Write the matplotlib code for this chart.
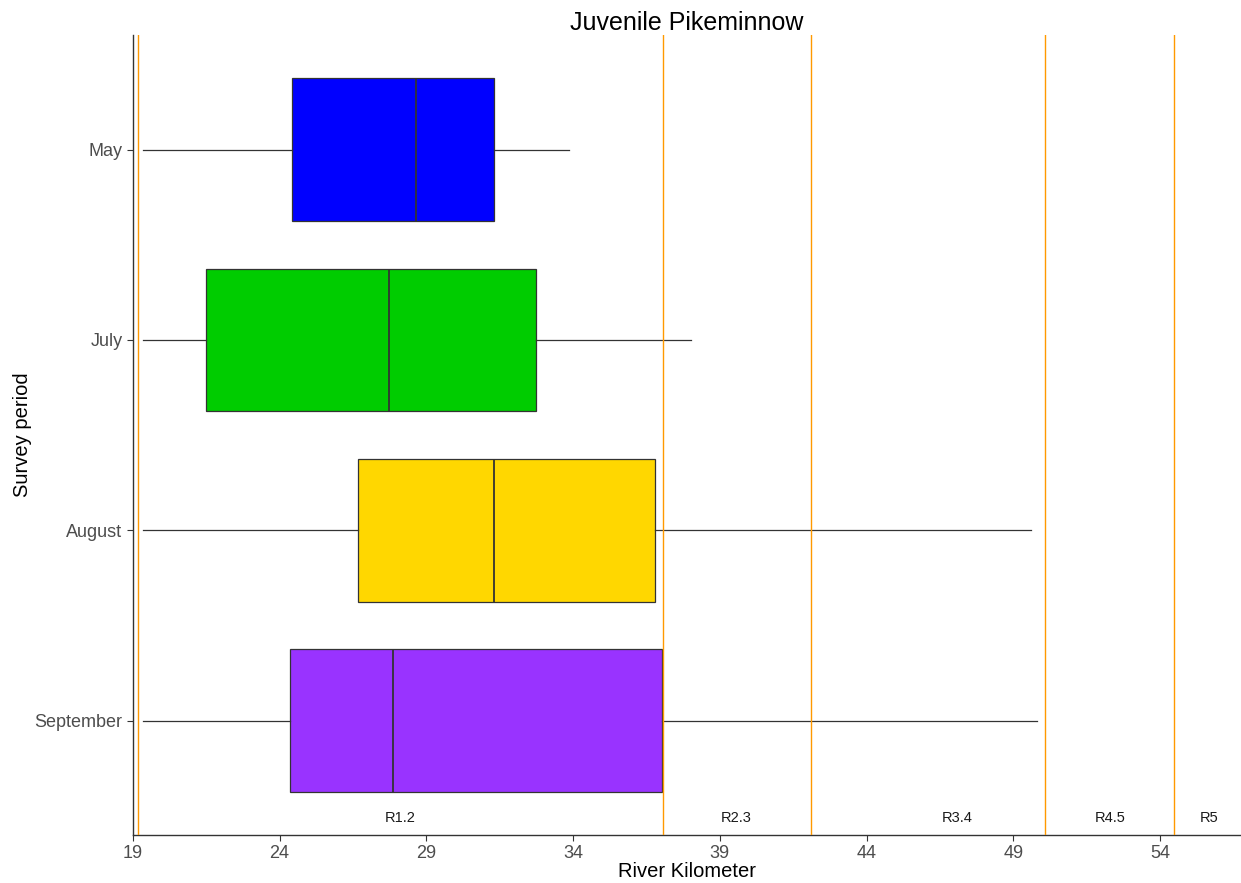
import numpy as np
import matplotlib.pyplot as plt

plt.rcParams['font.family'] = ['Liberation Sans', 'DejaVu Sans']

# data (river km)
periods = ['May', 'July', 'August', 'September']
whis_lo = [19.34, 19.34, 19.34, 19.34]
q1 = [24.42, 21.49, 26.67, 24.35]
med = [28.65, 27.73, 31.30, 27.86]
q3 = [31.31, 32.74, 36.79, 37.03]
whis_hi = [33.86, 38.02, 49.6, 49.81]
colors = ['#0000FF', '#00CC00', '#FFD700', '#9933FF']

reach_breaks = [19.17, 37.06, 42.1, 50.08, 54.48]
reach_labels = ['R1.2', 'R2.3', 'R3.4', 'R4.5', 'R5']
reach_label_x = [28.1, 39.55, 47.08, 52.3, 55.67]

fig = plt.figure(figsize=(12.41, 8.83), dpi=100)
ax = fig.add_axes([0.107, 0.0544, 0.893, 0.9056])

stats = []
for i in range(len(periods)):
    stats.append({'whislo': whis_lo[i], 'q1': q1[i], 'med': med[i], 'q3': q3[i],
                  'whishi': whis_hi[i], 'fliers': [], 'label': periods[i]})

ypos = [4, 3, 2, 1]
bp = ax.bxp(stats, positions=ypos, widths=0.75, vert=False, patch_artist=True,
            showcaps=False,
            boxprops=dict(edgecolor='#333333', linewidth=0.9),
            medianprops=dict(color='#333333', linewidth=1.3),
            whiskerprops=dict(color='#333333', linewidth=0.9))
for patch, c in zip(bp['boxes'], colors):
    patch.set_facecolor(c)

# reach boundaries
for x in reach_breaks:
    ax.axvline(x, color='#FF9900', linewidth=1.0, zorder=5)

for x, lab in zip(reach_label_x, reach_labels):
    ax.text(x, 0.49, lab, ha='center', va='center', fontsize=10.5, color='#1a1a1a')

ax.set_xlim(19, 56.76)
ax.set_ylim(0.4, 4.6)
ax.set_xticks([19, 24, 29, 34, 39, 44, 49, 54])
ax.set_yticks(ypos)
ax.set_yticklabels(periods)
ax.tick_params(colors='#333333', labelcolor='#4D4D4D', labelsize=13, length=4)

for s in ['top', 'right']:
    ax.spines[s].set_visible(False)
for s in ['left', 'bottom']:
    ax.spines[s].set_color('#333333')
    ax.spines[s].set_linewidth(1.0)

ax.set_title('Juvenile Pikeminnow', fontsize=18, pad=3)
ax.set_xlabel('River Kilometer', fontsize=14.5, labelpad=0)
ax.set_ylabel('Survey period', fontsize=14.5, labelpad=2)

plt.savefig('out.png', dpi=100)
